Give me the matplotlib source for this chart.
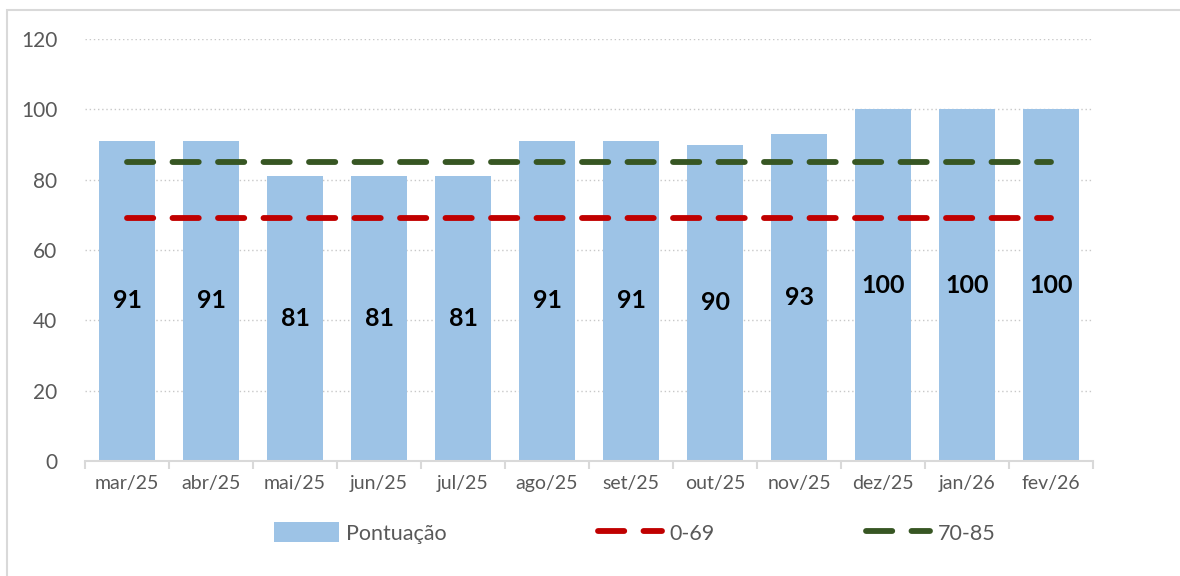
import matplotlib.pyplot as plt
import numpy as np
from matplotlib.patches import Rectangle
from matplotlib.lines import Line2D
from matplotlib.patches import Patch

meses = ['mar/25', 'abr/25', 'mai/25', 'jun/25', 'jul/25', 'ago/25',
         'set/25', 'out/25', 'nov/25', 'dez/25', 'jan/26', 'fev/26']
pontuacao = [91, 91, 81, 81, 81, 91, 91, 90, 93, 100, 100, 100]
faixa_baixa = [69] * 12
faixa_media = [85] * 12

plt.rcParams['font.family'] = ['Lato', 'DejaVu Sans']

fig = plt.figure(figsize=(11.8, 5.76), dpi=100)
ax = fig.add_axes([85 / 1180, 1 - 461 / 576, 1008 / 1180, 422 / 576])

x = np.arange(len(meses))
azul = '#9DC3E6'
ax.bar(x, pontuacao, width=0.67, color=azul, zorder=2)
for xi, v in zip(x, pontuacao):
    ax.text(xi, v / 2, str(v), ha='center', va='center', fontsize=18,
            fontweight='bold', color='black', zorder=4)

ax.plot(x, faixa_baixa, color='#C00000', lw=4.2, dashes=(4.5, 3.3),
        solid_capstyle='round', dash_capstyle='round', zorder=3)
ax.plot(x, faixa_media, color='#375623', lw=4.2, dashes=(4.5, 3.3),
        solid_capstyle='round', dash_capstyle='round', zorder=3)

ax.set_xlim(-0.5, len(meses) - 0.5)
ax.set_ylim(0, 120)
ax.set_yticks(range(0, 121, 20))
ax.yaxis.grid(True, linestyle=(0, (1, 2)), color='#C8C8C8', lw=1, zorder=0)
ax.set_xticks(x)
ax.set_xticklabels(meses)
ax.set_xticks(np.arange(-0.5, len(meses), 1), minor=True)
ax.tick_params(axis='x', which='major', length=0, pad=10, labelsize=14,
               colors='#595959')
ax.tick_params(axis='x', which='minor', length=6, color='#D9D9D9', width=1.5)
ax.tick_params(axis='y', length=0, pad=20, labelsize=15, colors='#595959')
for s in ['top', 'right', 'left']:
    ax.spines[s].set_visible(False)
ax.spines['bottom'].set_color('#D9D9D9')
ax.spines['bottom'].set_linewidth(1.5)

handles = [
    Patch(facecolor=azul, label='Pontuação'),
    Line2D([0], [0], color='#C00000', lw=4.2, dashes=(4.5, 3.3),
           dash_capstyle='round', label='0-69'),
    Line2D([0], [0], color='#375623', lw=4.2, dashes=(4.5, 3.3),
           dash_capstyle='round', label='70-85'),
]
leg = fig.legend(handles=handles, loc='center', bbox_to_anchor=(635 / 1180, 1 - 533 / 576),
                 ncol=3, frameon=False, fontsize=15.5, handlelength=3.0,
                 handleheight=1.0, handletextpad=0.35, columnspacing=7.0)
for t in leg.get_texts():
    t.set_color('#595959')

fig.patches.append(Rectangle((7 / 1180, -0.05), 1.1, 1 - 10 / 576 + 0.05,
                             transform=fig.transFigure, fill=False,
                             edgecolor='#D9D9D9', lw=1.5))

fig.savefig('out.png', dpi=100)
